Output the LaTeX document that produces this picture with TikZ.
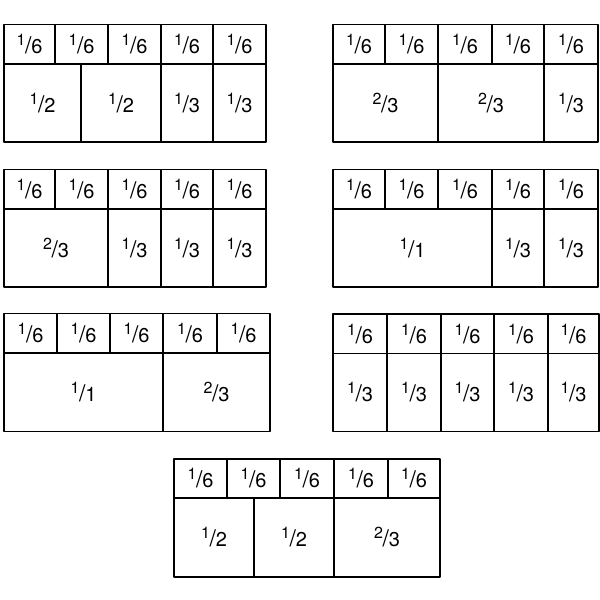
\documentclass[tikz,border=0pt]{standalone}
\usepackage{fontspec}
\setmainfont{TeX Gyre Heros}
\newcommand{\fr}[2]{\raisebox{8pt}{\fontsize{16}{16}\selectfont #1}\kern-0.3pt{\fontsize{23}{23}\selectfont /}\kern-0.3pt{#2}}
\newcommand{\fracbar}[6]{%
  % #1 name, #2 top, #3 mid, #4 bottom, #5 top cells, #6 bottom cells
  \foreach \a/\b [count=\i] in {#5}
    \node[cell, minimum width={(\b-\a)*1pt}, minimum height={(#3-#2)*1pt}] (#1-t\i) at ({(\a+\b)/2},{(#2+#3)/2}) {\fr{1}{6}};
  \foreach \a/\b/\n/\d [count=\i] in {#6}
    \node[cell, minimum width={(\b-\a)*1pt}, minimum height={(#4-#3)*1pt}] (#1-b\i) at ({(\a+\b)/2},{(#3+#4)/2}) {\fr{\n}{\d}};
}
\begin{document}
\begin{tikzpicture}[x=1pt, y=-1pt, line join=round, font=\fontsize{20}{20}\selectfont,
  cell/.style={draw, line width=1.7pt, inner sep=0pt, outer sep=0pt}]
  \useasboundingbox (0,0) rectangle (600,600);
  % top row
  \fracbar{A}{24.5}{64}{142}{4/55,55/108,108/161,161/213,213/266}{4/81/1/2,81/161/1/2,161/213/1/3,213/266/1/3}
  \fracbar{B}{24.5}{64}{142}{333/385,385/438,438/492,492/544,544/598}{333/438/2/3,438/544/2/3,544/598/1/3}
  % middle rows
  \fracbar{C}{169.5}{209}{287}{4/55,55/108,108/161,161/213,213/266}{4/108/2/3,108/161/1/3,161/213/1/3,213/266/1/3}
  \fracbar{D}{169.5}{209}{287}{333/385,385/438,438/492,492/544,544/598}{333/492/1/1,492/544/1/3,544/598/1/3}
  \fracbar{E}{313.5}{353}{431.5}{4/57,57/110,110/163,163/217,217/270}{4/163/1/1,163/270/2/3}
  \fracbar{F}{314}{353.5}{431.5}{333/387,387/441,441/494,494/548,548/599}{333/387/1/3,387/441/1/3,441/494/1/3,494/548/1/3,548/599/1/3}
  % bottom
  \fracbar{G}{459}{498}{577}{174/227,227/280,280/334,334/388,388/440}{174/254/1/2,254/334/1/2,334/440/2/3}
\end{tikzpicture}
\end{document}
